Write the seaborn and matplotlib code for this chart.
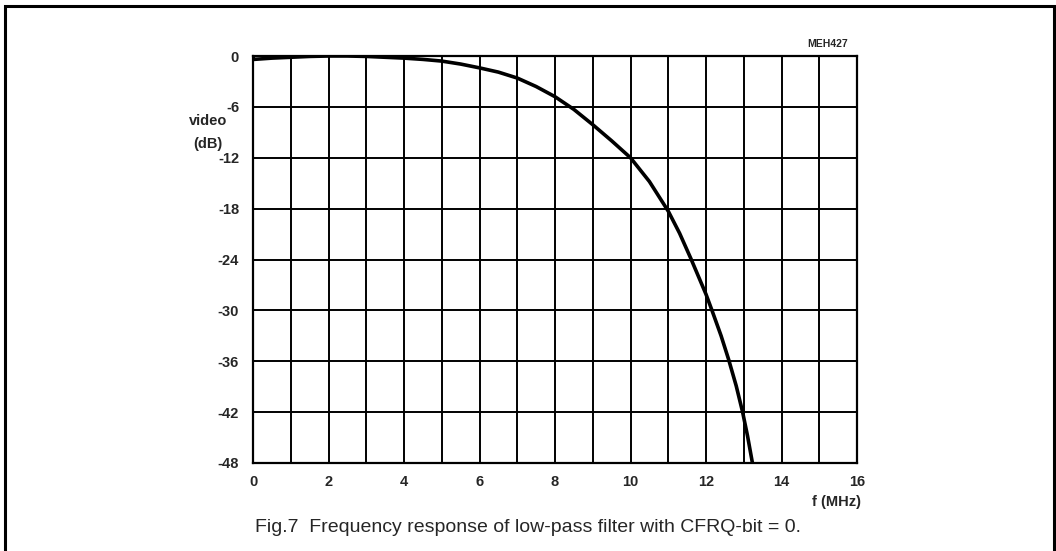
import numpy as np
import pandas as pd
import matplotlib
matplotlib.use('Agg')
import matplotlib.pyplot as plt
import seaborn as sns
from matplotlib.patches import Rectangle

# values
freq_mhz = [0, 0.02, 0.5, 1, 1.5, 2, 2.5, 3, 3.5, 4, 4.5, 5, 5.5, 6, 6.5, 7, 7.5, 8,
            8.5, 9, 9.5, 10, 10.5, 11, 11.3, 11.6, 12, 12.15, 12.4, 12.6, 12.8,
            12.97, 13.1, 13.23]
gain_db = [0, -0.4, -0.25, -0.15, -0.05, 0, 0, -0.05, -0.15, -0.25, -0.4, -0.6, -0.95,
           -1.4, -1.9, -2.6, -3.6, -4.8, -6.3, -8.1, -10.0, -12.0, -14.8, -18.3, -20.9,
           -23.9, -28.1, -29.9, -33.0, -35.8, -38.9, -42.0, -44.8, -48.0]
x_major = [0, 2, 4, 6, 8, 10, 12, 14, 16]
x_minor = [1, 3, 5, 7, 9, 11, 13, 15]
y_ticks = [0, -6, -12, -18, -24, -30, -36, -42, -48]

df = pd.DataFrame({'f': freq_mhz, 'gain': gain_db})

sns.set_style('white')
plt.rcParams['font.family'] = ['Liberation Sans', 'DejaVu Sans']

fig = plt.figure(figsize=(10.56, 5.51), dpi=100)
ax = fig.add_axes([253 / 1056, 1 - 463 / 551, 604 / 1056, 407 / 551])

sns.lineplot(data=df, x='f', y='gain', ax=ax, color='black', linewidth=2.6,
             sort=False, zorder=5, clip_on=True)

ax.set_xlim(0, 16)
ax.set_ylim(-48, 0)
ax.set_xticks(x_major)
ax.set_xticks(x_minor, minor=True)
ax.set_yticks(y_ticks)
ax.set_xticklabels([str(v) for v in x_major], fontsize=10.5, fontweight='bold')
ax.set_yticklabels([str(v) for v in y_ticks], fontsize=10.5, fontweight='bold')
ax.grid(True, which='both', color='black', linewidth=1.4)
ax.tick_params(axis='both', which='both', length=0)
ax.tick_params(axis='x', pad=9)
ax.tick_params(axis='y', pad=10)
for sp in ax.spines.values():
    sp.set_color('black')
    sp.set_linewidth(1.6)
ax.set_xlabel('')
ax.set_ylabel('')

fig.text(208 / 1056, 1 - 121 / 551, 'video', fontsize=10.5, fontweight='bold',
         ha='center', va='center')
fig.text(208 / 1056, 1 - 144 / 551, '(dB)', fontsize=10.5, fontweight='bold',
         ha='center', va='center')
fig.text(848 / 1056, 1 - 44 / 551, 'MEH427', fontsize=7.5, fontweight='bold',
         ha='right', va='center')
fig.text(836 / 1056, 1 - 502 / 551, 'f (MHz)', fontsize=10.5, fontweight='bold',
         ha='center', va='center')
fig.text(528 / 1056, 1 - 527 / 551,
         'Fig.7  Frequency response of low-pass filter with CFRQ-bit = 0.',
         fontsize=14, ha='center', va='center')

# frame around the figure (bottom edge falls outside the image)
fig.patches.append(Rectangle((5 / 1056, -0.05), 1049 / 1056, 1.05 - 6 / 551,
                             transform=fig.transFigure, fill=False,
                             edgecolor='black', linewidth=2.2))

fig.savefig('out.png', dpi=100)
